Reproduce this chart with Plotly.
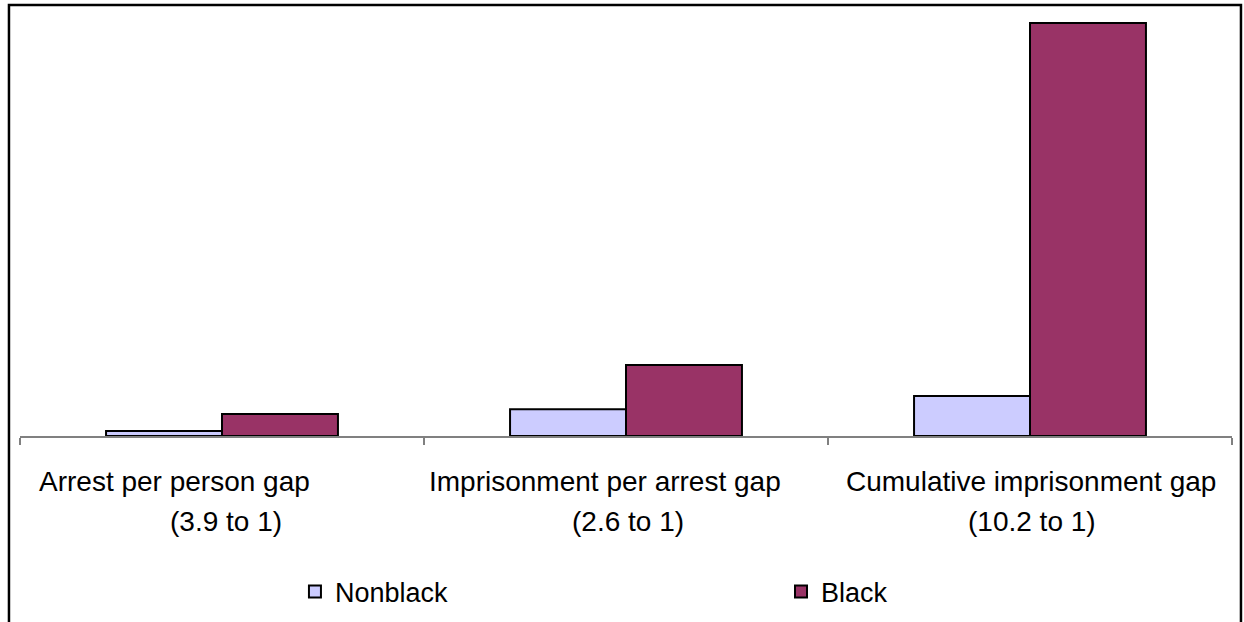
import plotly.graph_objects as go

# ---- data (arbitrary units) ----
categories = ["Arrest per person gap", "Imprisonment per arrest gap", "Cumulative imprisonment gap"]
ratio_labels = ["(3.9 to 1)", "(2.6 to 1)", "(10.2 to 1)"]
nonblack = [1.2, 6.5, 9.7]
black = [5.3, 17.2, 100.0]
series_names = ["Nonblack", "Black"]
series_colors = ["#CCCCFF", "#993366"]
legend_ids = ["legend", "legend2"]
legend_x = [0.2371, 0.6278]

FONT = "Liberation Sans, Arial, sans-serif"

fig = go.Figure()
for name, vals, col, lg in zip(series_names, [nonblack, black], series_colors, legend_ids):
    fig.add_trace(go.Bar(
        x=categories, y=vals, name=name, legend=lg,
        marker=dict(color=col, line=dict(color="black", width=2)),
        hoverinfo="x+y+name",
    ))

# category labels (two lines, positioned like the original)
line1_shift = [-48, -21, 1]
line2_shift = [4, 2, 2]
for cat, l2, s1, s2 in zip(categories, ratio_labels, line1_shift, line2_shift):
    fig.add_annotation(x=cat, y=0, xref="x", yref="y", text=cat, showarrow=False,
                       xanchor="center", yanchor="middle", xshift=s1, yshift=-45,
                       font=dict(family=FONT, size=28, color="black"))
    fig.add_annotation(x=cat, y=0, xref="x", yref="y", text=l2, showarrow=False,
                       xanchor="center", yanchor="middle", xshift=s2, yshift=-85,
                       font=dict(family=FONT, size=28, color="black"))

# outer chart border
fig.add_shape(type="rect", xref="paper", yref="paper",
              x0=-0.0091, x1=1.0074, y0=-0.6, y1=1.0189,
              line=dict(color="black", width=2.5), fillcolor="rgba(0,0,0,0)", layer="below")

legend_common = dict(orientation="h", xanchor="left", xref="container", yref="container",
                     y=0.0482, yanchor="middle",
                     font=dict(family=FONT, size=27, color="black"),
                     itemclick=False, itemdoubleclick=False, bgcolor="rgba(0,0,0,0)")

fig.update_layout(
    width=1244, height=622,
    margin=dict(l=20, r=12, t=13, b=186, pad=0),
    paper_bgcolor="white", plot_bgcolor="white",
    barmode="group", bargap=0.426, bargroupgap=0,
    font=dict(family=FONT, size=28, color="black"),
    showlegend=True,
    legend=dict(x=legend_x[0], **legend_common),
    legend2=dict(x=legend_x[1], **legend_common),
    xaxis=dict(showline=True, linecolor="#808080", linewidth=1.5,
               ticks="outside", tickson="boundaries", ticklen=7, tickcolor="#808080",
               tickwidth=1.5, showticklabels=False, showgrid=False, zeroline=False,
               fixedrange=True),
    yaxis=dict(range=[0, 102.42], visible=False, showgrid=False, zeroline=False,
               fixedrange=True),
)

fig.write_html("out.html")
